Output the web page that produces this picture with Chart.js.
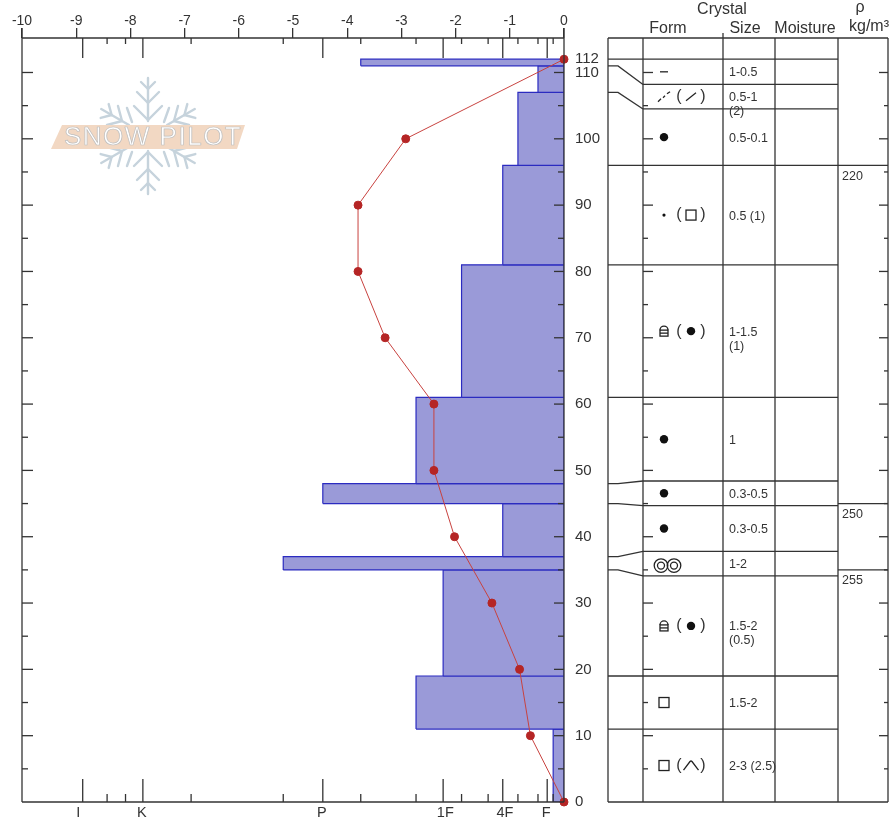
<!DOCTYPE html>
<html>
<head>
<meta charset="utf-8">
<title>Snow profile</title>
<script src="https://cdn.jsdelivr.net/npm/chart.js@4/dist/chart.umd.min.js"></script>
<style>
  html, body { margin: 0; padding: 0; background: #fff; }
  #wrap { width: 893px; height: 822px; }
</style>
</head>
<body>
<div id="wrap"><canvas id="profile" width="893" height="822"></canvas></div>
<script>
// layers, top to bottom (height in cm, hardness on the ram scale)
const layerBounds = [112, 111, 107, 96, 81, 61, 48, 45, 37, 35, 19, 11, 0];
const layerHardness = [-3.75, -0.48, -0.85, -1.13, -1.89, -2.73, -4.45, -1.13, -5.18, -2.23, -2.73, -0.2];

// ram / stability line
const ramHeights = [0, 10, 20, 30, 40, 50, 60, 70, 80, 90, 100, 112];
const ramValues = [0, -0.62, -0.82, -1.33, -2.02, -2.4, -2.4, -3.3, -3.8, -3.8, -2.92, 0];

// axes
const heightLabels = [0, 10, 20, 30, 40, 50, 60, 70, 80, 90, 100, 110, 112];
const hardnessNames = ['I', 'K', 'P', '1F', '4F', 'F'];
const hardnessNamePos = [-8.96, -7.79, -4.47, -2.19, -1.09, -0.33];
const hardnessMajor = [-8.88, -7.77, -4.45, -2.23, -1.13, -0.31];
const hardnessMinor = [-8.43, -8.09, -6.88, -5.18, -3.75, -2.73, -1.89, -1.4, -0.85, -0.48, -0.2];

// table on the right
const formBounds = [112, 108.2, 104.5, 96, 81, 61, 48.4, 44.7, 37.8, 34.1, 19, 11, 0];
const grainForms = ['dash', 'decomp', 'round', 'fine', 'facetRound', 'round', 'round', 'round', 'rings', 'facetRound', 'facet', 'facet'];
const grainSecond = [null, 'slash', null, 'facet', 'round', null, null, null, null, 'round', null, 'hat'];
const grainSizes = [['1-0.5'], ['0.5-1', '(2)'], ['0.5-0.1'], ['0.5 (1)'], ['1-1.5', '(1)'], ['1'], ['0.3-0.5'], ['0.3-0.5'], ['1-2'], ['1.5-2', '(0.5)'], ['1.5-2'], ['2-3 (2.5)']];
const densityBounds = [96, 45, 35];
const densityLabels = ['220', '250', '255'];

const INK = '#333';
const FONT = '"Liberation Sans", Arial, sans-serif';

function text(ctx, str, x, y, size, align) {
    ctx.font = size + 'px ' + FONT;
    ctx.fillStyle = INK;
    ctx.textAlign = align || 'left';
    ctx.textBaseline = 'middle';
    ctx.fillText(str, x, y);
}

function seg(ctx, x1, y1, x2, y2) {
    ctx.beginPath();
    ctx.moveTo(x1, y1);
    ctx.lineTo(x2, y2);
    ctx.stroke();
}

function drawSymbol(ctx, kind, x, y) {
    ctx.strokeStyle = '#222';
    ctx.fillStyle = '#111';
    ctx.lineWidth = 1.3;
    if (kind === 'dash') {
        seg(ctx, x - 4, y, x + 4, y);
    } else if (kind === 'decomp') {
        seg(ctx, x - 6, y + 5, x - 3, y + 2);
        seg(ctx, x - 1, y + 1, x + 1, y - 1);
        seg(ctx, x + 3, y - 3, x + 6, y - 5);
    } else if (kind === 'slash') {
        seg(ctx, x - 5, y + 4, x + 5, y - 4);
    } else if (kind === 'round') {
        ctx.beginPath();
        ctx.arc(x, y, 4.2, 0, Math.PI * 2);
        ctx.fill();
    } else if (kind === 'fine') {
        ctx.beginPath();
        ctx.arc(x, y, 1.6, 0, Math.PI * 2);
        ctx.fill();
    } else if (kind === 'facet') {
        ctx.strokeRect(x - 5, y - 5, 10, 10);
    } else if (kind === 'facetRound') {
        ctx.strokeRect(x - 4, y - 1, 8, 6);
        ctx.beginPath();
        ctx.arc(x, y - 1, 4, Math.PI, 0);
        ctx.stroke();
        seg(ctx, x - 4, y + 2, x + 4, y + 2);
    } else if (kind === 'hat') {
        ctx.beginPath();
        ctx.moveTo(x - 7.5, y + 4.5);
        ctx.lineTo(x - 1, y - 4);
        ctx.quadraticCurveTo(x, y - 5, x + 1, y - 4);
        ctx.lineTo(x + 7.5, y + 4.5);
        ctx.stroke();
    } else if (kind === 'rings') {
        [-3, 10].forEach(function(dx) {
            ctx.beginPath();
            ctx.arc(x + dx, y + 2, 6.8, 0, Math.PI * 2);
            ctx.stroke();
            ctx.beginPath();
            ctx.arc(x + dx, y + 2, 3.5, 0, Math.PI * 2);
            ctx.stroke();
        });
    }
}

function drawLogo(ctx) {
    const cx = 148, cy = 136;
    ctx.save();
    ctx.strokeStyle = '#c6d3dc';
    ctx.lineWidth = 2.4;
    ctx.lineCap = 'round';
    // six arms, each with chevrons
    [0, 60, 120, 180, 240, 300].forEach(function(deg) {
        const vertical = deg === 0 || deg === 180;
        const from = vertical ? 15 : 22;
        const to = vertical ? 58 : 54;
        ctx.save();
        ctx.translate(cx, cy);
        ctx.rotate(deg * Math.PI / 180);
        seg(ctx, 0, -from, 0, -to);
        (vertical ? [[16, 14], [33, 11], [47, 7]] : [[30, 11], [42, 8]]).forEach(function(c) {
            seg(ctx, 0, -c[0], -c[1], -c[0] - c[1]);
            seg(ctx, 0, -c[0], c[1], -c[0] - c[1]);
        });
        ctx.restore();
    });
    seg(ctx, 127, 108, 132, 122);
    seg(ctx, 169, 108, 164, 122);
    seg(ctx, 127, 166, 132, 152);
    seg(ctx, 169, 166, 164, 152);
    ctx.fillStyle = '#f2d8c3';
    ctx.beginPath();
    ctx.moveTo(51, 149);
    ctx.lineTo(62, 125);
    ctx.lineTo(245, 125);
    ctx.lineTo(237, 149);
    ctx.closePath();
    ctx.fill();
    ctx.font = '26px ' + FONT;
    ctx.letterSpacing = '1.5px';
    ctx.textAlign = 'left';
    ctx.textBaseline = 'middle';
    ctx.fillStyle = '#fff';
    ctx.lineWidth = 0.7;
    ctx.strokeStyle = '#bdbdbd';
    ctx.fillText('SNOW PILOT', 64, 138);
    ctx.strokeText('SNOW PILOT', 64, 138);
    ctx.restore();
}

function heightTicks(ctx, yScale, x, dir, major, minor) {
    for (let v = 5; v <= 110; v += 5) {
        const y = yScale.getPixelForValue(v);
        seg(ctx, x, y, x + dir * (v % 10 === 0 ? major : minor), y);
    }
}

const profileFrame = {
    id: 'profileFrame',
    beforeDatasetsDraw(chart) {
        drawLogo(chart.ctx);
    },
    afterDatasetsDraw(chart) {
        const ctx = chart.ctx;
        const xS = chart.scales.x;
        const yS = chart.scales.y;
        const top = yS.top, bot = yS.bottom;
        const left = xS.left, right = xS.right;

        ctx.save();
        ctx.strokeStyle = INK;
        ctx.lineWidth = 1.3;
        ctx.lineCap = 'butt';

        // plot frame
        seg(ctx, left, top - 10, left, bot);
        seg(ctx, right, top - 10, right, bot);
        seg(ctx, left, top, right, top);
        seg(ctx, left, bot, right, bot);
        heightTicks(ctx, yS, left, 1, 11, 6);
        heightTicks(ctx, yS, right, -1, 10, 6);

        // hand hardness ticks, top and bottom
        hardnessMajor.forEach(function(v) {
            const x = xS.getPixelForValue(v);
            seg(ctx, x, top, x, top + 20);
            seg(ctx, x, bot, x, bot - 23);
        });
        hardnessMinor.forEach(function(v) {
            const x = xS.getPixelForValue(v);
            seg(ctx, x, top, x, top + 6);
            seg(ctx, x, bot, x, bot - 8);
        });

        // table
        const cols = [608, 643, 723, 775, 838, 888];
        cols.forEach(function(x) { seg(ctx, x, top, x, bot); });
        seg(ctx, 723, top - 5, 723, top);
        seg(ctx, 608, top, 888, top);
        seg(ctx, 608, bot, 888, bot);
        heightTicks(ctx, yS, 643, 1, 10, 5);
        heightTicks(ctx, yS, 888, -1, 9, 4);

        formBounds.slice(0, -1).forEach(function(b, i) {
            const yl = yS.getPixelForValue(layerBounds[i]);
            const yr = yS.getPixelForValue(b);
            seg(ctx, 643, yr, 838, yr);
            ctx.beginPath();
            ctx.moveTo(608, yl);
            ctx.lineTo(618, yl);
            ctx.lineTo(643, yr);
            ctx.stroke();
        });
        densityBounds.forEach(function(b, i) {
            const y = yS.getPixelForValue(b);
            seg(ctx, 838, y, 888, y);
            text(ctx, densityLabels[i], 842, y + 11, 12.5);
        });

        grainForms.forEach(function(form, i) {
            const y = (yS.getPixelForValue(formBounds[i]) + yS.getPixelForValue(formBounds[i + 1])) / 2;
            drawSymbol(ctx, form, 664, y);
            if (grainSecond[i]) {
                drawSymbol(ctx, grainSecond[i], 691, y);
                text(ctx, '(', 679, y, 16, 'center');
                text(ctx, ')', 703, y, 16, 'center');
            }
            grainSizes[i].forEach(function(s, k) {
                text(ctx, s, 729, y + 1 + k * 14, 12.5);
            });
            ctx.strokeStyle = INK;
            ctx.lineWidth = 1.3;
        });

        // column headers
        text(ctx, 'Crystal', 722, 10, 16, 'center');
        text(ctx, 'Form', 668, 29, 16, 'center');
        text(ctx, 'Size', 745, 29, 16, 'center');
        text(ctx, 'Moisture', 805, 29, 16, 'center');
        text(ctx, 'ρ', 860, 8, 16, 'center');
        text(ctx, 'kg/m³', 869, 27, 16, 'center');
        ctx.restore();
    }
};

const layerSets = layerHardness.map(function(h, i) {
    const top = layerBounds[i];
    const bottom = layerBounds[i + 1];
    return {
        data: [{x: h, y: bottom}, {x: 0, y: bottom}, {x: 0, y: top}, {x: h, y: top}, {x: h, y: bottom}],
        showLine: true,
        fill: 'shape',
        backgroundColor: '#9a9ad8',
        borderColor: '#2b2bc0',
        borderWidth: 1.2,
        pointRadius: 0,
        order: 2
    };
});

const ramSet = {
    data: ramHeights.map(function(h, i) { return {x: ramValues[i], y: h}; }),
    showLine: true,
    borderColor: '#c8423f',
    borderWidth: 1,
    pointRadius: 4,
    pointBackgroundColor: '#b52525',
    pointBorderColor: '#b52525',
    clip: false,
    order: 1
};

new Chart(document.getElementById('profile'), {
    type: 'scatter',
    data: { datasets: [ramSet].concat(layerSets) },
    plugins: [profileFrame],
    options: {
        responsive: false,
        animation: false,
        layout: { padding: { left: 22, right: 0, top: 0, bottom: 0 } },
        plugins: { legend: { display: false }, tooltip: { enabled: false } },
        scales: {
            x: {
                type: 'linear',
                position: 'top',
                min: -10,
                max: 0,
                afterFit(axis) { axis.height = 38; },
                grid: { drawOnChartArea: false, tickLength: 10, color: INK, lineWidth: 1.3 },
                border: { display: false },
                ticks: { stepSize: 1, padding: -2, color: INK, font: { family: FONT, size: 14 }, maxRotation: 0 }
            },
            xb: {
                type: 'linear',
                position: 'bottom',
                min: -10,
                max: 0,
                afterFit(axis) { axis.height = 20; },
                afterBuildTicks(axis) { axis.ticks = hardnessNamePos.map(function(v) { return {value: v}; }); },
                grid: { display: false, drawTicks: false },
                border: { display: false },
                ticks: {
                    autoSkip: false,
                    maxRotation: 0,
                    padding: 2,
                    color: INK,
                    font: { family: FONT, size: 14.5 },
                    callback(value) { return hardnessNames[hardnessNamePos.indexOf(value)]; }
                }
            },
            y: {
                type: 'linear',
                position: 'right',
                min: 0,
                max: 115.2,
                afterFit(axis) { axis.width = 329; },
                afterBuildTicks(axis) { axis.ticks = heightLabels.map(function(v) { return {value: v}; }); },
                grid: { display: false, drawTicks: false },
                border: { display: false },
                ticks: { autoSkip: false, padding: 11, color: INK, font: { family: FONT, size: 15 } }
            }
        }
    }
});
</script>
</body>
</html>
